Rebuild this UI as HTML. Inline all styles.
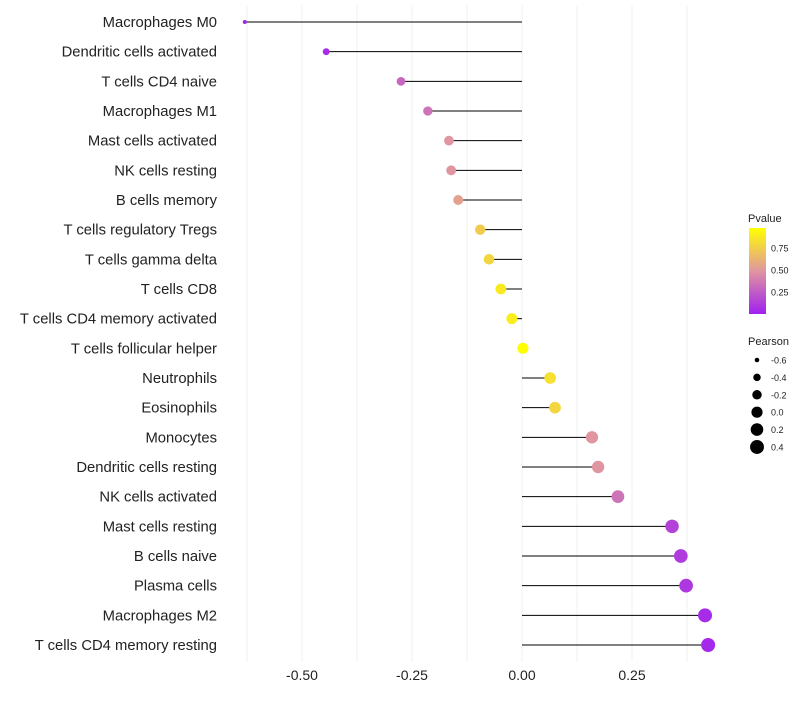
<!DOCTYPE html>
<html><head><meta charset="utf-8"><style>
body{margin:0;background:#fff;font-family:"Liberation Sans",sans-serif}
</style></head><body>
<svg id="c" width="800" height="700" xmlns="http://www.w3.org/2000/svg"></svg>
<script>
const categories=["Macrophages M0","Dendritic cells activated","T cells CD4 naive","Macrophages M1","Mast cells activated","NK cells resting","B cells memory","T cells regulatory  Tregs ","T cells gamma delta","T cells CD8","T cells CD4 memory activated","T cells follicular helper","Neutrophils","Eosinophils","Monocytes","Dendritic cells resting","NK cells activated","Mast cells resting","B cells naive","Plasma cells","Macrophages M2","T cells CD4 memory resting"];
const pearson=[-0.63,-0.445,-0.275,-0.214,-0.166,-0.161,-0.145,-0.095,-0.075,-0.048,-0.023,0.002,0.064,0.075,0.159,0.173,0.218,0.341,0.361,0.373,0.416,0.423];
const pvalue=[0.02,0.05,0.3,0.35,0.5,0.5,0.55,0.75,0.8,0.9,0.92,1.0,0.85,0.8,0.5,0.5,0.35,0.15,0.12,0.1,0.05,0.04];
const xTicks=[-0.5,-0.25,0,0.25];
const xTickLabels=["-0.50","-0.25","0.00","0.25"];
const sizeLegend=[-0.6,-0.4,-0.2,0.0,0.2,0.4];
const sizeLegendLabels=["-0.6","-0.4","-0.2","0.0","0.2","0.4"];
const pTicks=[0.25,0.5,0.75];
const pTickLabels=["0.25","0.50","0.75"];

const svg=document.getElementById('c');
const NS="http://www.w3.org/2000/svg";
const x=v=>522+v*440;
const y=i=>22+i*(645-22)/(categories.length-1);
const r=p=>Math.sqrt(Math.max(2.5,4+(p+0.63)*42.9));
function lerp(a,b,t){return a.map((v,i)=>Math.round(v+(b[i]-v)*t));}
function col(p){const a=[160,32,240],m=[224,150,160],b=[255,255,0];const c=p<0.5?lerp(a,m,p/0.5):lerp(m,b,(p-0.5)/0.5);return `rgb(${c[0]},${c[1]},${c[2]})`;}
function el(t,at,parent){const e=document.createElementNS(NS,t);for(const k in at)e.setAttribute(k,at[k]);(parent||svg).appendChild(e);return e;}

for(let k=-5;k<=3;k++){const v=k*0.125;const g=el('line',{x1:x(v),x2:x(v),y1:5,y2:662,stroke:'#f2f2f2','stroke-width':1.2});

}
xTicks.forEach((v,i)=>{const t=el('text',{x:x(v),y:680,'text-anchor':'middle','font-size':14,fill:'#222'});t.textContent=xTickLabels[i];

});
categories.forEach((c,i)=>{
 const t=el('text',{x:217,y:y(i)+5,'text-anchor':'end','font-size':14.8,fill:'#222','xml:space':'preserve'});t.textContent=c;
 
 
 const l=el('line',{x1:x(0),x2:x(pearson[i]),y1:y(i),y2:y(i),stroke:'#000','stroke-width':1});
 
 
 const d=el('circle',{cx:x(pearson[i]),cy:y(i),r:r(pearson[i]),fill:col(pvalue[i])});
 
 
});
const lt=el('text',{x:748,y:222,'font-size':11,fill:'#222'});lt.textContent='Pvalue';


const defs=el('defs',{});const gr=el('linearGradient',{id:'gr',x1:0,y1:1,x2:0,y2:0},defs);
[0,0.25,0.5,0.75,1].forEach(p=>el('stop',{offset:p,'stop-color':col(p)},gr));
const bar=el('rect',{x:749,y:228,width:17,height:86,fill:'url(#gr)'});


const py=p=>314-p*88;
pTicks.forEach((p,i)=>{const t=el('text',{x:771,y:py(p)+3.5,'font-size':9,fill:'#222'});t.textContent=pTickLabels[i];

});
const st=el('text',{x:748,y:345,'font-size':11,fill:'#222'});st.textContent='Pearson';


sizeLegend.forEach((v,i)=>{const cy=360+i*17.4;
 const c=el('circle',{cx:757,cy:cy,r:r(v),fill:'#000'});
 
 
 const t=el('text',{x:771,y:cy+3.5,'font-size':9,fill:'#222'});t.textContent=sizeLegendLabels[i];
 
 });
</script>
</body></html>
